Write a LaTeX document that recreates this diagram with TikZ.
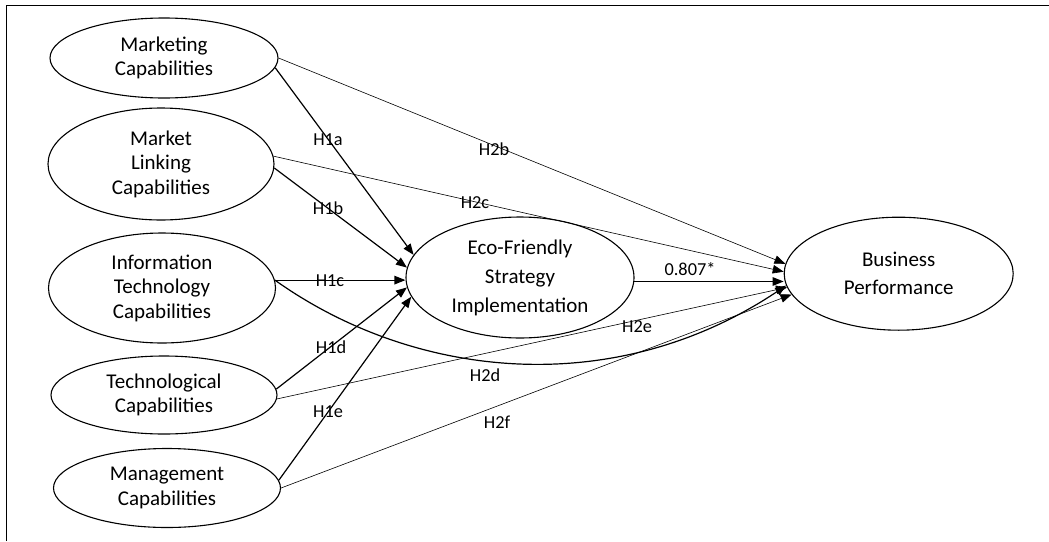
\documentclass[tikz,border=0pt]{standalone}
\usepackage{fontspec}
\setmainfont{Carlito}
\usetikzlibrary{shapes.geometric,arrows.meta}
\begin{document}
\begin{tikzpicture}[x=1pt,y=-1pt,
 lat/.style={draw,ellipse,inner sep=0pt,align=center,line width=1.1pt,font=\fontsize{21}{24.5}\selectfont},
 hyp/.style={font=\fontsize{18.3}{20}\selectfont,inner sep=0pt},
 tipped/.style={-{Triangle[length=11pt,width=8.5pt]}},
 strong/.style={tipped,line width=1.2pt},
 weak/.style={tipped,line width=0.6pt}]
\useasboundingbox (0,0) rectangle (1049,541);
\draw[line width=1.3pt] (6.5,541) -- (6.5,5.5) -- (1049,5.5);

\node[lat,minimum width=228pt,minimum height=80pt] (mk) at (164,58) {Marketing\\Capabilities};
\node[lat,minimum width=226pt,minimum height=112pt] (ml) at (161,164) {Market\\Linking\\Capabilities};
\node[lat,minimum width=227pt,minimum height=110pt] (it) at (162,288) {Information\\Technology\\Capabilities};
\node[lat,minimum width=226pt,minimum height=78pt] (tc) at (164,395) {Technological\\Capabilities};
\node[lat,minimum width=227pt,minimum height=79pt] (mg) at (167,488) {Management\\Capabilities};
\node[lat,minimum width=228pt,minimum height=121pt,font=\fontsize{21}{29}\selectfont] (eco) at (520,277.5) {Eco-Friendly\\Strategy\\Implementation};
\node[lat,minimum width=229pt,minimum height=113pt,font=\fontsize{21}{28}\selectfont] (bp) at (898.7,273.7) {Business\\Performance};

% H1 paths
\draw[strong] (mk.-5) -- (eco.168);
\draw[strong] (ml.-2) -- (eco.175);
\draw[strong] (it.4) -- (it.4 -| eco.west);
\draw[strong] (tc.3) -- (eco.185);
\draw[strong] (mg.4) -- (eco.190);

% H2 paths
\draw[weak] (mk.east) -- (bp.175);
\draw[weak] (ml.4) -- (bp.179);
\draw[strong] (eco.-2) -- (eco.-2 -| bp.west);
\draw[strong] (it.4) .. controls (415,380) and (615,400) .. (bp.186);
\draw[weak] (tc.-2) -- (bp.187);
\draw[weak] (mg.0) -- (bp.191);

% labels
\node[hyp] (h1a) at (328,140) {H1a};
\node[hyp] (h1b) at (328,208) {H1b};
\node[hyp] (h1c) at (330,281) {H1c};
\node[hyp] (h1d) at (331,347) {H1d};
\node[hyp] (h1e) at (328,412) {H1e};
\node[hyp] (h2b) at (494,149) {H2b};
\node[hyp] (h2c) at (475,203) {H2c};
\node[hyp] (h2e) at (637,327) {H2e};
\node[hyp] (h2d) at (485,375) {H2d};
\node[hyp] (h2f) at (497,422) {H2f};
\node[hyp] (b) at (690,269) {0.807*};
\end{tikzpicture}
\end{document}
